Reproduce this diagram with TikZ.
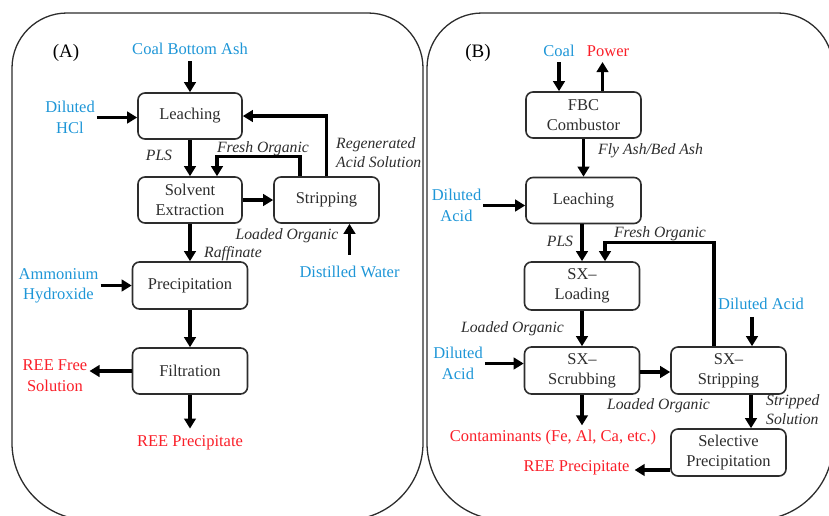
\documentclass[tikz,border=0pt]{standalone}
\usepackage{fontspec}
\setmainfont{Liberation Serif}
\usetikzlibrary{arrows.meta}
\definecolor{cblue}{RGB}{30,150,215}
\definecolor{cred}{RGB}{250,30,40}
\definecolor{cgray}{RGB}{45,45,45}
\begin{document}
\begin{tikzpicture}[x=1pt,y=-1pt,
  box/.style={draw=cgray, line width=1.6pt, rounded corners=7pt, minimum width=104pt,
    minimum height=46pt, align=center, inner sep=0pt, text=cgray,
    font=\fontsize{16.5}{20}\selectfont},
  flow/.style={line width=3.2pt, -{Triangle[length=10pt,width=11.5pt]}},
  lab/.style={font=\fontsize{15.7}{18.5}\selectfont\itshape, text=cgray, inner sep=0pt},
  inp/.style={font=\fontsize{16.5}{20.5}\selectfont, text=cblue, align=center, inner sep=2pt},
  outp/.style={font=\fontsize{16.5}{20.5}\selectfont, text=cred, align=center, inner sep=2pt},
  frame/.style={draw=cgray, line width=1.3pt},
  plabel/.style={font=\fontsize{19}{22}\selectfont, inner sep=0pt}]
\useasboundingbox (0,0) rectangle (829,515);
\clip (0,0) rectangle (829,515);

% ---------- frames ----------
\draw[frame] (12,300) [rounded corners=55pt] -- (12,13) -- (423,13) -- (423,300)
  [rounded corners=77pt] -- (423,520) -- (12,520) -- (12,300) -- cycle;
\draw[frame] (427,300) [rounded corners=55pt] -- (427,13) -- (833,13) -- (833,300)
  [rounded corners=77pt] -- (833,520) -- (427,520) -- (427,300) -- cycle;

% ================= Panel A =================
\node[plabel, anchor=base] (pa) at (66,57) {(A)};

\node[box] (leachA) at (190,116) {Leaching};
\node[box] (sxA) at (190,200) {Solvent\\Extraction};
\node[box, minimum width=105pt] (stripA) at (326.5,200) {Stripping};
\node[box, minimum width=115pt, minimum height=47pt] (precA) at (190,285.5) {Precipitation};
\node[box, minimum width=115pt] (filtA) at (190,371) {Filtration};

\node[inp] (coalA) at (190,49) {Coal Bottom Ash};
\node[inp] (hcl) at (70,117.5) {Diluted\\HCl};
\node[inp] (dw) at (349.5,272) {Distilled Water};
\node[inp] (amm) at (58.5,286) {Ammonium\\Hydroxide};
\node[outp] (freeA) at (55,375.5) {REE Free\\Solution};
\node[outp] (reeA) at (190,443) {REE Precipitate};

\node[lab, anchor=base] (plsA) at (159,160) {PLS};
\node[lab, anchor=base] (freshA) at (263,152) {Fresh Organic};
\node[lab, anchor=base west, align=left] (regen) at (336,167) {Regenerated\\Acid Solution};
\node[lab, anchor=base] (loadedA) at (287,239.5) {Loaded Organic};
\node[lab, anchor=base] (raff) at (233,257.5) {Raffinate};

\draw[flow, shorten <=4pt] (coalA.south) -- (leachA.north);
\draw[flow] (hcl.east) -- (hcl.east -| leachA.west);
\draw[flow] (leachA.south) -- (sxA.north);
\draw[flow] ([xshift=-26.5pt]stripA.north) -- ++(0,-20) -| ([xshift=27pt]sxA.north);
\draw[flow] (stripA.north) |- (leachA.east);
\draw[flow] (sxA.east) -- (stripA.west);
\draw[flow, shorten <=9pt] (dw.north) -- (dw.north |- stripA.south);
\draw[flow] (sxA.south) -- (precA.north);
\draw[flow] (amm.east |- precA.west) -- (precA.west);
\draw[flow] (precA.south) -- (filtA.north);
\draw[flow] (filtA.west) -- (freeA.east |- filtA.west);
\draw[flow, shorten >=5pt] (filtA.south) -- (reeA.north);

% ================= Panel B =================
\node[plabel, anchor=base] (pb) at (478,57) {(B)};

\node[box, minimum width=115pt] (fbc) at (583.5,115) {FBC\\Combustor};
\node[box, minimum width=115pt, minimum height=46pt] (leachB) at (583.5,200.5) {Leaching};
\node[box, minimum width=115pt, minimum height=48pt] (loadB) at (582,286) {SX--\\Loading};
\node[box, minimum width=115pt, minimum height=47pt] (scrubB) at (582,370.5) {SX--\\Scrubbing};
\node[box, minimum width=115pt, minimum height=47pt] (stripB) at (728.5,370.5) {SX--\\Stripping};
\node[box, minimum width=115pt, minimum height=47pt] (selB) at (728.5,452.5) {Selective\\Precipitation};

\node[inp, anchor=base, inner sep=0pt] (coalB) at (559,56) {Coal};
\node[outp, anchor=base, inner sep=0pt] (power) at (608,56) {Power};
\node[inp] (dil1) at (456.5,205.5) {Diluted\\Acid};
\node[inp] (dil2) at (458,363.5) {Diluted\\Acid};
\node[inp, anchor=base, inner sep=0pt] (dil3) at (761,309.5) {Diluted Acid};
\node[outp, anchor=base, inner sep=0pt] (cont) at (553,441) {Contaminants (Fe, Al, Ca, etc.)};
\node[outp, anchor=base, inner sep=0pt] (reeB) at (576.5,471.5) {REE Precipitate};

\node[lab, anchor=base west] (fly) at (598,154) {Fly Ash/Bed Ash};
\node[lab, anchor=base] (plsB) at (560,246) {PLS};
\node[lab, anchor=base] (freshB) at (660,237) {Fresh Organic};
\node[lab, anchor=base] (loadedB1) at (512.5,332) {Loaded Organic};
\node[lab, anchor=base] (loadedB2) at (658.5,409) {Loaded Organic};
\node[lab, anchor=base west, align=left] (stripped) at (766,424) {Stripped\\Solution};

\draw[flow, shorten <=5pt] (coalB.south |- 0,57) -- (coalB.south |- fbc.north);
\draw[flow, shorten >=5pt] ([xshift=19pt]fbc.north) -- ([xshift=19pt]fbc.north |- 0,57);
\draw[flow] (fbc.south) -- (leachB.north);
\draw[flow] (dil1.east) -- (dil1.east -| leachB.west);
\draw[flow] (leachB.south -| loadB.north) -- (loadB.north);
\draw[flow] ([xshift=-14.5pt]stripB.north) -- ++(0,-104) -| ([xshift=23pt]loadB.north);
\draw[flow] (loadB.south) -- (scrubB.north);
\draw[flow] (dil2.east) -- (dil2.east -| scrubB.west);
\draw[flow] ([yshift=-1.5pt]scrubB.east) -- ([yshift=-1.5pt]stripB.west);
\draw[flow, shorten <=7pt] ([xshift=-9pt]dil3.south) -- ([xshift=-9pt]dil3.south |- stripB.north);
\draw[flow, shorten >=4pt] (scrubB.south) -- (scrubB.south |- cont.north);
\draw[flow] ([xshift=22.5pt]stripB.south) -- ([xshift=22.5pt]selB.north);
\draw[flow, shorten >=5pt] ([yshift=-17.5pt]selB.west) -- ([yshift=-17.5pt]selB.west -| reeB.east);
\end{tikzpicture}
\end{document}
